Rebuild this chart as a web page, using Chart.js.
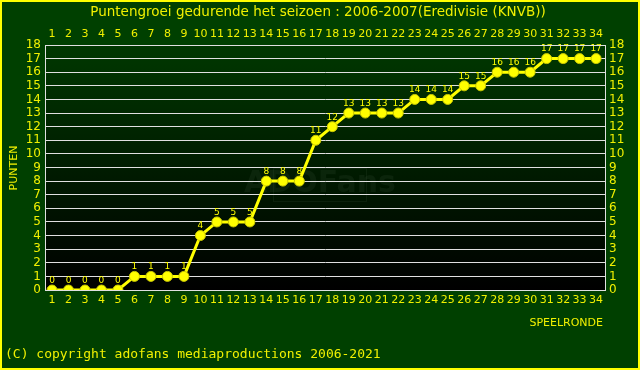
<!DOCTYPE html>
<html>
<head>
<meta charset="utf-8">
<script src="https://cdn.jsdelivr.net/npm/chart.js@4/dist/chart.umd.min.js"></script>
<style>
  html, body { margin: 0; padding: 0; background: #004000; }
  #puntenChart {
    display: block;
    background: linear-gradient(#003800, #000000) 45px 45px / 561px 245px no-repeat, #004000;
  }
</style>
</head>
<body>
<canvas id="puntenChart" width="640" height="370"></canvas>
<script>
// speelronde en punten
const rounds = [1,2,3,4,5,6,7,8,9,10,11,12,13,14,15,16,17,18,19,20,21,22,23,24,25,26,27,28,29,30,31,32,33,34];
const points = [0,0,0,0,0,1,1,1,1,4,5,5,5,8,8,8,11,12,13,13,13,13,14,14,14,15,15,16,16,16,17,17,17,17];
const yTicks = [0,1,2,3,4,5,6,7,8,9,10,11,12,13,14,15,16,17,18];

const titleText = 'Puntengroei gedurende het seizoen : 2006-2007(Eredivisie (KNVB))';
const copyText = '(C) copyright adofans mediaproductions 2006-2021';
const yel = '#f0f000';

const frame = {
  id: 'frame',
  beforeDraw(chart) {
    const c = chart.ctx;
    c.save();
    // watermark
    c.font = 'bold 30px "DejaVu Sans"';
    c.fillStyle = 'rgba(60,90,60,0.18)';
    c.textAlign = 'center'; c.textBaseline = 'middle';
    c.fillText('ADOFans', 320, 184);
    c.strokeStyle = 'rgba(60,90,60,0.18)';
    c.strokeRect(273.5, 168.5, 93, 33);
    c.restore();
  },
  afterDraw(chart) {
    const c = chart.ctx, a = chart.chartArea;
    c.save();
    c.strokeStyle = '#e0e0e0'; c.lineWidth = 1;
    c.strokeRect(a.left + 0.5, a.top + 0.5, a.right - a.left - 1, a.bottom - a.top);
    c.fillStyle = yel;
    c.textBaseline = 'middle';
    c.font = '13.5px "DejaVu Sans"';
    c.textAlign = 'center';
    c.fillText(titleText, 318, 12);
    c.font = '11px "DejaVu Sans"';
    c.textAlign = 'right';
    c.fillText('SPEELRONDE', 603, 323);
    c.font = '13px "DejaVu Sans Mono"';
    c.textAlign = 'left';
    c.fillText(copyText, 5, 355);
    c.translate(14, 168);
    c.rotate(-Math.PI / 2);
    c.textAlign = 'center';
    c.font = '11px "DejaVu Sans"';
    c.fillText('PUNTEN', 0, 0);
    c.restore();
    c.save();
    c.strokeStyle = '#ffff00'; c.lineWidth = 2;
    c.strokeRect(1, 1, chart.width - 2, chart.height - 2);
    c.restore();
  }
};

const pointLabels = {
  id: 'pointLabels',
  afterDatasetsDraw(chart) {
    const c = chart.ctx;
    const meta = chart.getDatasetMeta(0);
    c.save();
    c.fillStyle = '#ffff00';
    c.font = '9px "DejaVu Sans"';
    c.textAlign = 'center'; c.textBaseline = 'bottom';
    meta.data.forEach((p, i) => c.fillText(String(points[i]), p.x, p.y - 5));
    c.restore();
  }
};

const xTickSet = s => { s.ticks = rounds.map(v => ({ value: v })); };
const yTickSet = s => { s.ticks = yTicks.map(v => ({ value: v })); };
const tickFont = { family: 'DejaVu Sans', size: 11 };

new Chart(document.getElementById('puntenChart'), {
  type: 'line',
  data: {
    datasets: [{
      data: rounds.map((r, i) => ({ x: r, y: points[i] })),
      borderColor: '#ffff00',
      borderWidth: 3,
      pointBackgroundColor: '#ffff00',
      pointBorderColor: '#c8c800',
      pointBorderWidth: 1,
      pointRadius: 5,
      fill: false,
      tension: 0
    }]
  },
  plugins: [frame, pointLabels],
  options: {
    responsive: false,
    animation: false,
    events: [],
    plugins: { legend: { display: false }, tooltip: { enabled: false } },
    scales: {
      x: {
        type: 'linear', position: 'bottom', min: 0.575, max: 34.6,
        afterBuildTicks: xTickSet,
        afterFit: s => { s.height = 80; },
        grid: { display: false, drawTicks: false },
        border: { display: false },
        ticks: { color: yel, font: tickFont, padding: 4, autoSkip: false, maxRotation: 0 }
      },
      x2: {
        type: 'linear', position: 'top', min: 0.575, max: 34.6,
        afterBuildTicks: xTickSet,
        afterFit: s => { s.height = 45; },
        grid: { display: false, drawTicks: false },
        border: { display: false },
        ticks: { color: yel, font: tickFont, padding: 4, autoSkip: false, maxRotation: 0 }
      },
      y: {
        position: 'left', min: 0, max: 18,
        afterBuildTicks: yTickSet,
        afterFit: s => { s.width = 45; },
        grid: { color: '#e0e0e0', lineWidth: 1, drawTicks: false },
        border: { display: false },
        ticks: { color: yel, font: { family: 'DejaVu Sans', size: 12 }, padding: 4, autoSkip: false }
      },
      y2: {
        position: 'right', min: 0, max: 18,
        afterBuildTicks: yTickSet,
        afterFit: s => { s.width = 34; },
        grid: { display: false, drawTicks: false },
        border: { display: false },
        ticks: { color: yel, font: { family: 'DejaVu Sans', size: 12 }, padding: 3, autoSkip: false }
      }
    }
  }
});
</script>
</body>
</html>
